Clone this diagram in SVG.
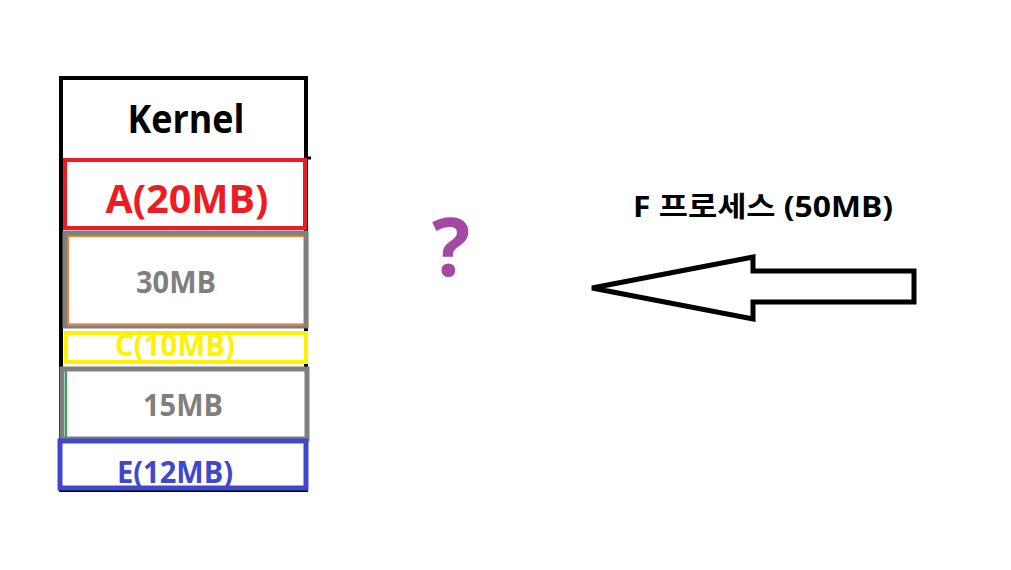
<svg xmlns="http://www.w3.org/2000/svg" width="1011" height="570" viewBox="0 0 1011 570">
<style>
text{font-family:"Open Sans","Noto Sans CJK KR",sans-serif;font-weight:bold;text-anchor:middle}
.blk{fill:none;stroke:#000;stroke-width:4}
.gray{fill:#fff;stroke:#7f7f7f;stroke-width:5}
</style>
<rect width="1011" height="570" fill="#fff"/>
<g id="memory">
<rect class="blk" x="61" y="78" width="245" height="412"/>
<line x1="306" y1="158" x2="311" y2="158" stroke="#000" stroke-width="3"/>
</g>
<g id="kernel">
<text x="186" y="133" font-size="40" fill="#000" textLength="117" lengthAdjust="spacingAndGlyphs">Kernel</text>
</g>
<g id="procA">
<rect x="65" y="160" width="240" height="68" fill="#fff" stroke="#ed1c24" stroke-width="4"/>
<text x="187" y="213" font-size="40" fill="#ed1c24" textLength="163" lengthAdjust="spacingAndGlyphs">A(20MB)</text>
</g>
<g id="hole30">
<rect x="67.5" y="235.5" width="240" height="90" fill="#fff" stroke="#ff7f27" stroke-width="1.5"/>
<rect class="gray" x="65" y="233" width="241" height="93" fill="none" style="fill:none"/>
<rect x="68" y="235.8" width="236" height="1.2" fill="#ff7f27"/>
<rect x="67.5" y="235.5" width="1.5" height="90" fill="#ff7f27"/>
<rect x="67.5" y="324.3" width="237" height="1.5" fill="#ff7f27"/>
<text x="176" y="293" font-size="31" fill="#7f7f7f" textLength="80" lengthAdjust="spacingAndGlyphs">30MB</text>
</g>
<g id="procC">
<rect x="66" y="333" width="240" height="29" fill="#fff" stroke="#fff200" stroke-width="4"/>
<text x="175" y="356" font-size="31" fill="#fff200" textLength="120" lengthAdjust="spacingAndGlyphs">C(10MB)</text>
</g>
<g id="hole15">
<rect class="gray" x="62" y="369" width="245" height="70"/>
<line x1="66" y1="371" x2="66" y2="437" stroke="#22b14c" stroke-width="2"/>
<text x="183" y="416" font-size="30" fill="#7f7f7f" textLength="80" lengthAdjust="spacingAndGlyphs">15MB</text>
</g>
<g id="procE">
<rect x="60" y="441" width="246" height="47" fill="#fff" stroke="#3f48cc" stroke-width="5"/>
<text x="175" y="483" font-size="30" fill="#3f48cc" textLength="116" lengthAdjust="spacingAndGlyphs">E(12MB)</text>
</g>
<g id="question">
<text x="451" y="276" font-size="80" fill="#a349a4">?</text>
</g>
<g id="procF">
<text x="763" y="217" font-size="28" fill="#000" textLength="260" lengthAdjust="spacingAndGlyphs">F 프로세스 (50MB)</text>
</g>
<g id="connectors">
<polygon points="592,288 753,257 753,271 914,271 914,302 753,302 753,319" fill="#fff" stroke="#000" stroke-width="5" stroke-linejoin="miter"/>
</g>
</svg>
